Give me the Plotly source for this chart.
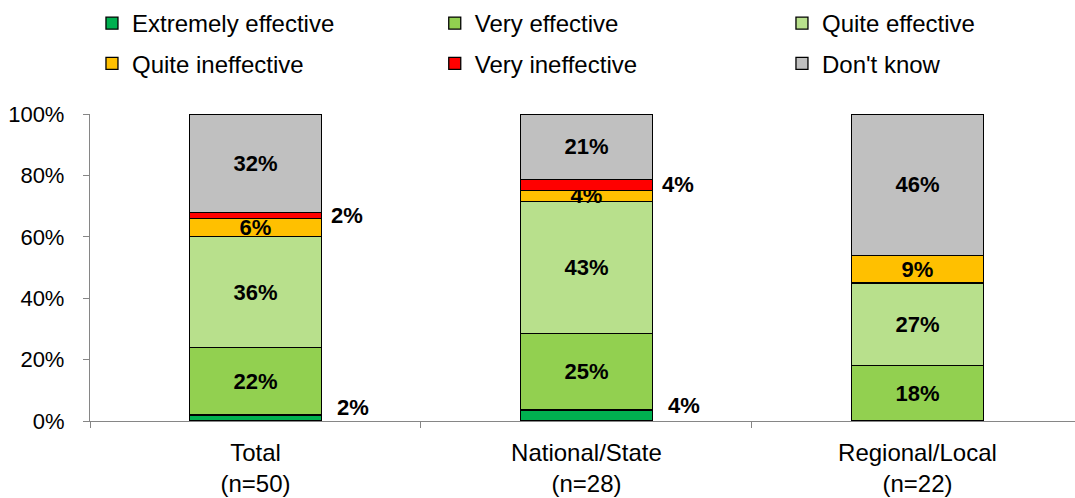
import plotly.graph_objects as go

# Survey segments and their shares (%) of respondents
categories = ["Total<br>(n=50)", "National/State<br>(n=28)", "Regional/Local<br>(n=22)"]

extremely_effective = [2, 3.6, 0]
very_effective = [22, 25.0, 18]
quite_effective = [36, 42.9, 27]
quite_ineffective = [6, 3.6, 9]
very_ineffective = [2, 3.6, 0]
dont_know = [32, 21.3, 46]

y_tick_values = [0, 20, 40, 60, 80, 100]
y_tick_labels = ["0%", "20%", "40%", "60%", "80%", "100%"]

series_names = ["Extremely effective", "Very effective", "Quite effective",
                "Quite ineffective", "Very ineffective", "Don't know"]
series_values = [extremely_effective, very_effective, quite_effective,
                 quite_ineffective, very_ineffective, dont_know]
series_colors = ["#00B050", "#92D050", "#B8E08C", "#FFC000", "#FF0000", "#C0C0C0"]
# legend column each series sits in (three columns, two rows)
series_legend = ["legend", "legend2", "legend3", "legend", "legend2", "legend3"]
# thin slices get their value written beside the bar instead of inside it
outside_labels = {"Extremely effective": (80, 10), "Very ineffective": (74, 0)}

FONT = "Liberation Sans, Arial, sans-serif"

fig = go.Figure()
for name, vals, color, leg in zip(series_names, series_values, series_colors, series_legend):
    fig.add_trace(go.Bar(
        name=name,
        x=categories,
        y=vals,
        width=0.4,
        marker=dict(color=color, line=dict(color="#000000", width=1.3)),
        texttemplate="%{y:.0f}%",
        textposition="none" if name in outside_labels else "inside",
        insidetextanchor="middle",
        textangle=0,
        textfont=dict(family=FONT, size=22, color="#000000", weight="bold"),
        legend=leg,
        legendgroup=name,
        hoverinfo="skip",
    ))

# value labels to the right of the thin slices
annotations = []
for i, cat in enumerate(categories):
    base = 0.0
    for name, vals in zip(series_names, series_values):
        v = vals[i]
        if name in outside_labels and v > 0:
            xshift, yshift = outside_labels[name]
            annotations.append(dict(
                x=cat, y=base + v / 2, xref="x", yref="y",
                text=f"{v:.0f}%", showarrow=False,
                xanchor="left", yanchor="middle",
                xshift=xshift, yshift=yshift,
                font=dict(family=FONT, size=22, color="#000000", weight="bold"),
            ))
        base += v

legend_common = dict(
    orientation="v",
    xanchor="left",
    yanchor="top",
    y=1.368,
    traceorder="grouped",
    tracegroupgap=6,
    font=dict(family=FONT, size=24, color="#000000"),
    bgcolor="rgba(0,0,0,0)",
    borderwidth=0,
)

fig.update_layout(
    width=1075,
    height=498,
    barmode="stack",
    plot_bgcolor="#FFFFFF",
    paper_bgcolor="#FFFFFF",
    margin=dict(l=90, r=0, t=114, b=77),
    font=dict(family=FONT, color="#000000"),
    uniformtext=dict(minsize=22, mode="show"),
    showlegend=True,
    legend=dict(legend_common, x=0.002),
    legend2=dict(legend_common, x=0.350),
    legend3=dict(legend_common, x=0.7025),
    annotations=annotations,
    xaxis=dict(
        type="category",
        range=[-0.5, 2.476],
        showline=True,
        linecolor="#868686",
        linewidth=1.3,
        ticks="outside",
        tickson="boundaries",
        ticklen=6,
        tickcolor="#868686",
        tickwidth=1.3,
        showgrid=False,
        ticklabelstandoff=10,
        tickfont=dict(family=FONT, size=24, color="#000000"),
    ),
    yaxis=dict(
        range=[0, 100],
        tickmode="array",
        tickvals=y_tick_values,
        ticktext=y_tick_labels,
        showline=True,
        linecolor="#868686",
        linewidth=1.3,
        ticks="outside",
        ticklen=6,
        tickcolor="#868686",
        tickwidth=1.3,
        showgrid=False,
        zeroline=False,
        ticklabelstandoff=14,
        tickfont=dict(family=FONT, size=22, color="#000000"),
    ),
)

fig.write_html("out.html")
